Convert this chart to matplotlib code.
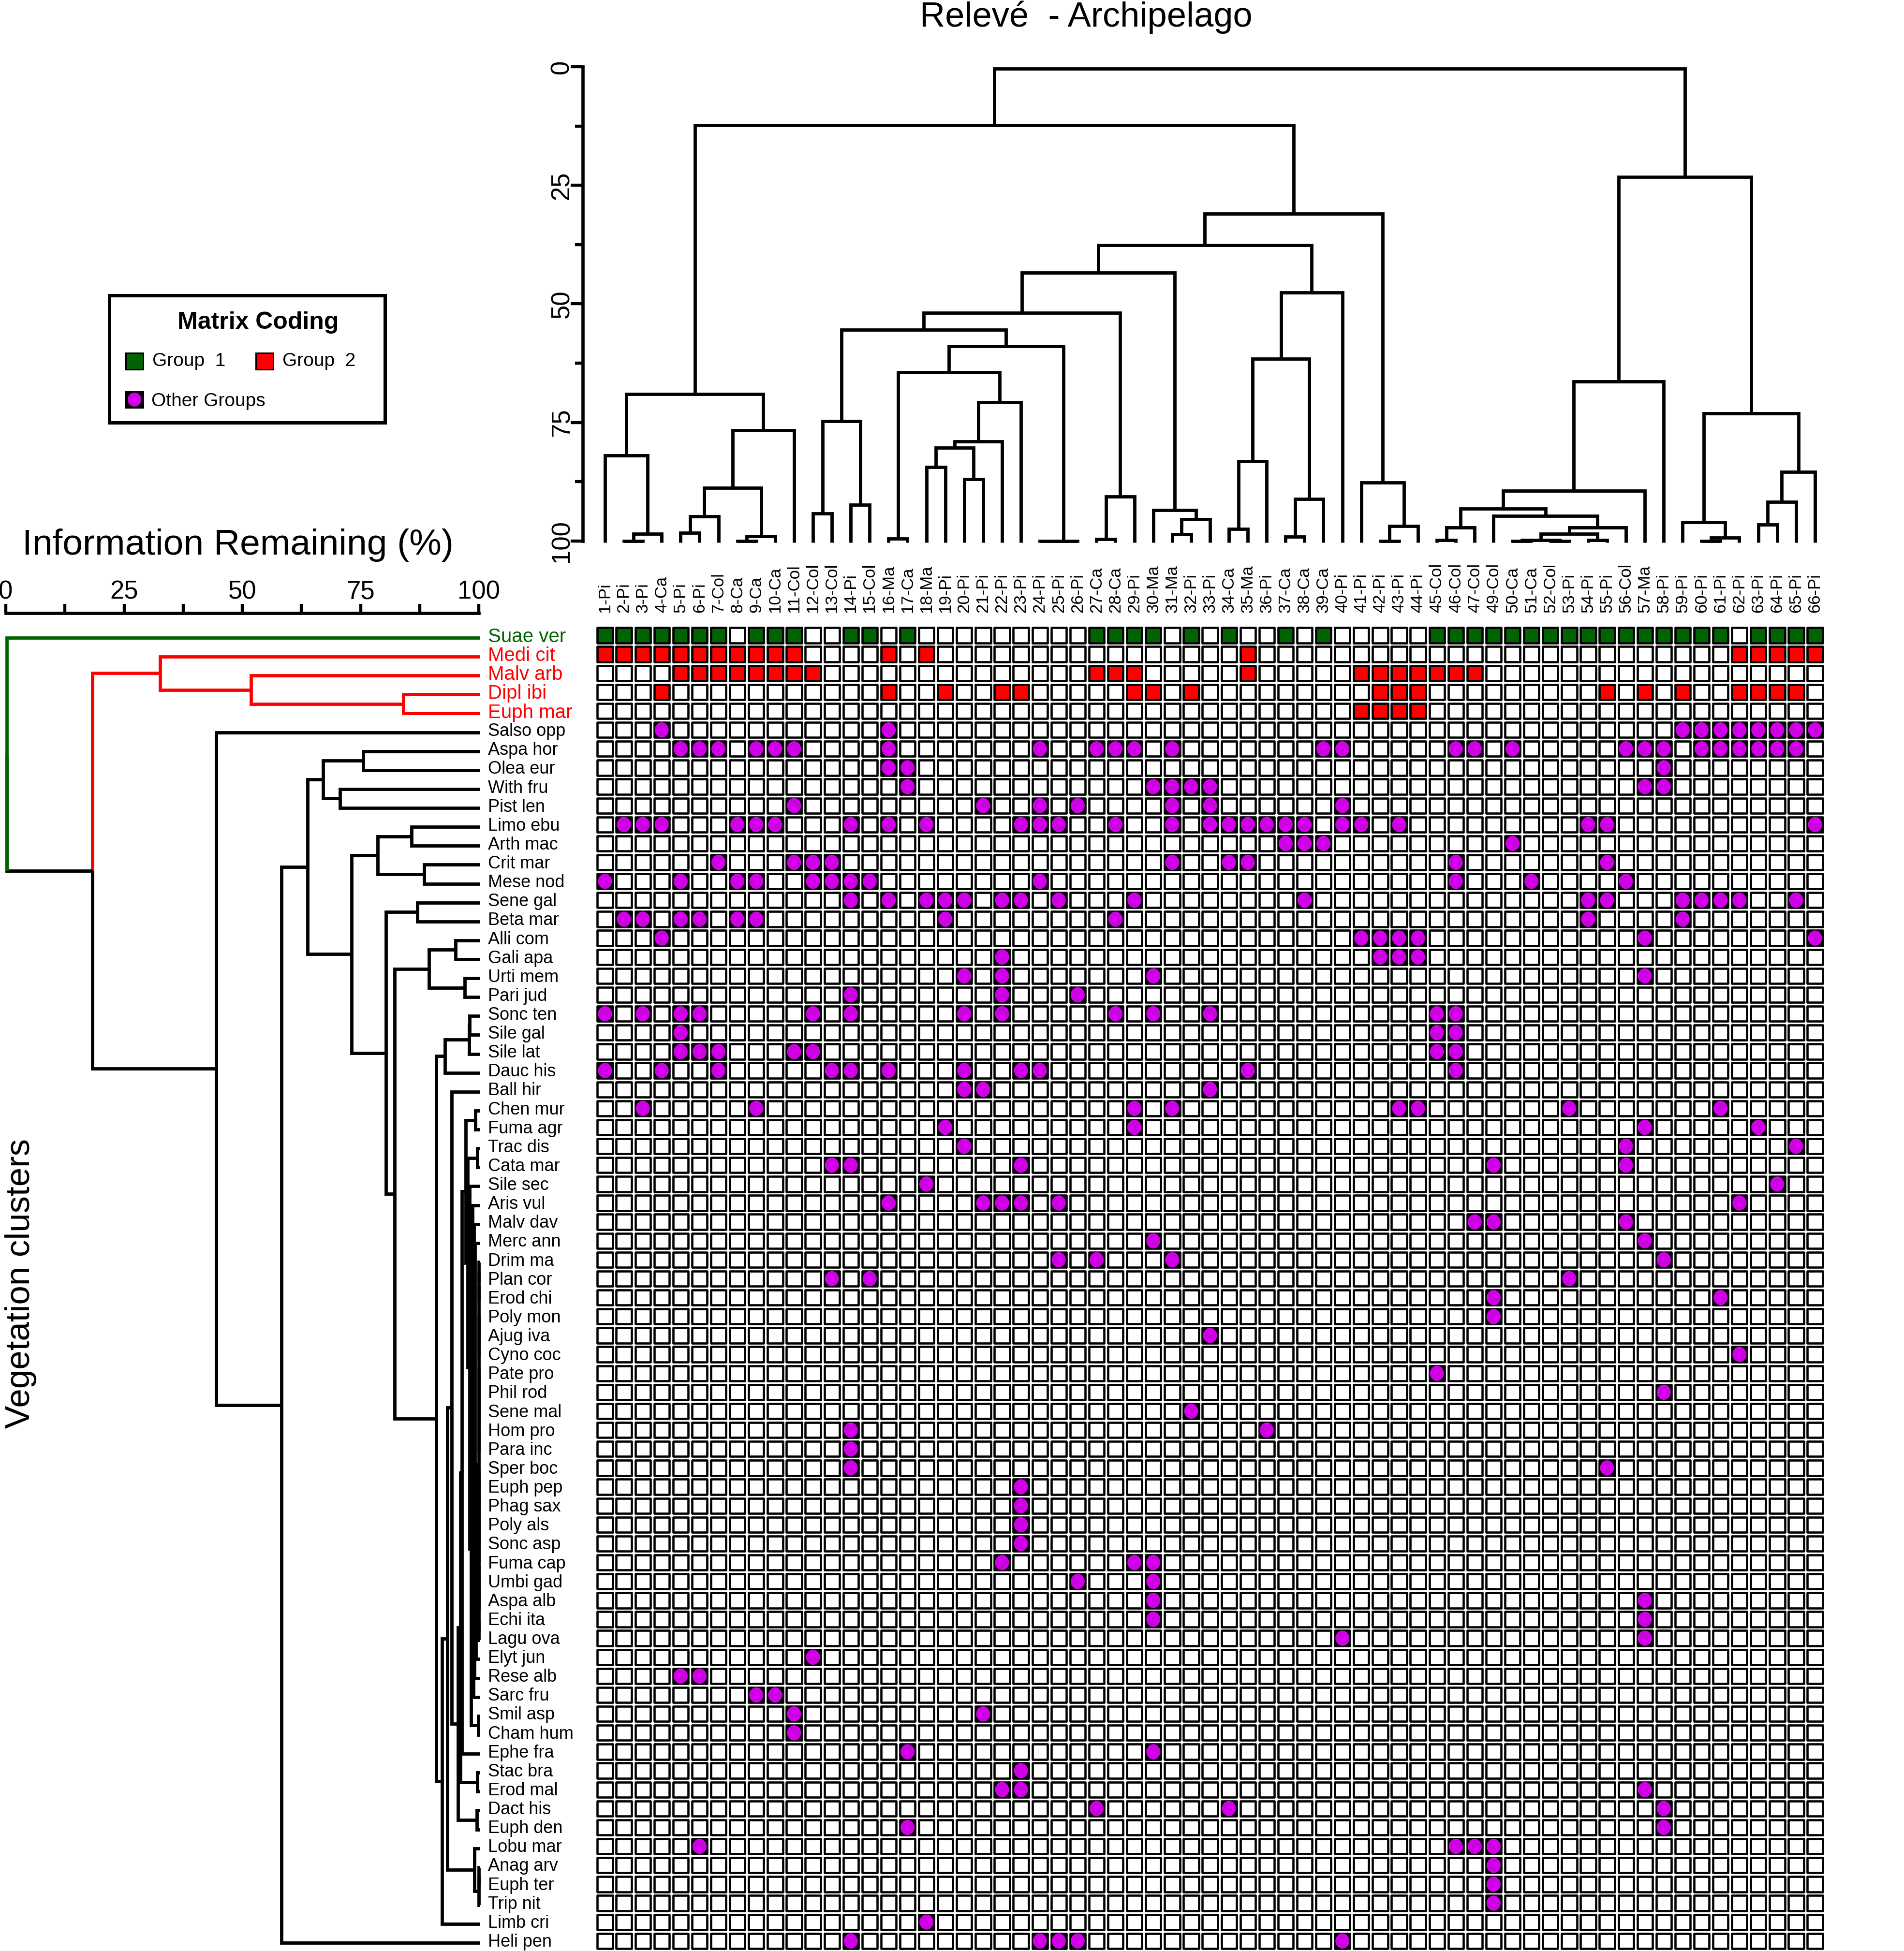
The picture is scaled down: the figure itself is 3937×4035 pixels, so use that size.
import matplotlib
matplotlib.use("Agg")
import matplotlib.pyplot as plt
from matplotlib.collections import PatchCollection
from matplotlib.patches import Rectangle, Ellipse

plt.rcParams['font.family'] = ['Liberation Sans', 'DejaVu Sans']

W, H = 3937, 4035
PX = 72 / 100  # one picture pixel in points

col_labels = ["1-Pi", "2-Pi", "3-Pi", "4-Ca", "5-Pi", "6-Pi", "7-Col", "8-Ca", "9-Ca", "10-Ca", "11-Col",
              "12-Col", "13-Col", "14-Pi", "15-Col", "16-Ma", "17-Ca", "18-Ma", "19-Pi", "20-Pi", "21-Pi",
              "22-Pi", "23-Pi", "24-Pi", "25-Pi", "26-Pi", "27-Ca", "28-Ca", "29-Pi", "30-Ma", "31-Ma",
              "32-Pi", "33-Pi", "34-Ca", "35-Ma", "36-Pi", "37-Ca", "38-Ca", "39-Ca", "40-Pi", "41-Pi",
              "42-Pi", "43-Pi", "44-Pi", "45-Col", "46-Col", "47-Col", "49-Col", "50-Ca", "51-Ca", "52-Col",
              "53-Pi", "54-Pi", "55-Pi", "56-Col", "57-Ma", "58-Pi", "59-Pi", "60-Pi", "61-Pi", "62-Pi",
              "63-Pi", "64-Pi", "65-Pi", "66-Pi"]

species = ["Suae ver", "Medi cit", "Malv arb", "Dipl ibi", "Euph mar", "Salso opp", "Aspa hor", "Olea eur",
           "With fru", "Pist len", "Limo ebu", "Arth mac", "Crit mar", "Mese nod", "Sene gal", "Beta mar",
           "Alli com", "Gali apa", "Urti mem", "Pari jud", "Sonc ten", "Sile gal", "Sile lat", "Dauc his",
           "Ball hir", "Chen mur", "Fuma agr", "Trac dis", "Cata mar", "Sile sec", "Aris vul", "Malv dav",
           "Merc ann", "Drim ma", "Plan cor", "Erod chi", "Poly mon", "Ajug iva", "Cyno coc", "Pate pro",
           "Phil rod", "Sene mal", "Hom pro", "Para inc", "Sper boc", "Euph pep", "Phag sax", "Poly als",
           "Sonc asp", "Fuma cap", "Umbi gad", "Aspa alb", "Echi ita", "Lagu ova", "Elyt jun", "Rese alb",
           "Sarc fru", "Smil asp", "Cham hum", "Ephe fra", "Stac bra", "Erod mal", "Dact his", "Euph den",
           "Lobu mar", "Anag arv", "Euph ter", "Trip nit", "Limb cri", "Heli pen"]

# releve numbers occupied per species, group 1 row
suae_ver = [1, 2, 3, 4, 5, 6, 7, 9, 10, 11, 14, 15, 17, 27, 28, 29, 30, 32, 34, 37, 39, 45, 46, 47, 49, 50, 51,
            52, 53, 54, 55, 56, 57, 58, 59, 60, 61, 63, 64, 65, 66]

# group 2 rows
medi_cit = [1, 2, 3, 4, 5, 6, 7, 8, 9, 10, 11, 16, 18, 35, 62, 63, 64, 65, 66]
malv_arb = [5, 6, 7, 8, 9, 10, 11, 12, 27, 28, 29, 35, 41, 42, 43, 44, 45, 46, 47]
dipl_ibi = [4, 16, 19, 22, 23, 29, 30, 32, 42, 43, 44, 55, 57, 59, 62, 63, 64, 65]
euph_mar = [41, 42, 43, 44]

# other groups, one list per remaining species in row order
other_rows = [
    [4, 16, 59, 60, 61, 62, 63, 64, 65, 66],
    [5, 6, 7, 9, 10, 11, 16, 24, 27, 28, 29, 31, 39, 40, 46, 47, 50, 56, 57, 58, 60, 61, 62, 63, 64, 65],
    [16, 17, 58],
    [17, 30, 31, 32, 33, 57, 58],
    [11, 21, 24, 26, 31, 33, 40],
    [2, 3, 4, 8, 9, 10, 14, 16, 18, 23, 24, 25, 28, 31, 33, 34, 35, 36, 37, 38, 40, 41, 43, 54, 55, 66],
    [37, 38, 39, 50],
    [7, 11, 12, 13, 31, 34, 35, 46, 55],
    [1, 5, 8, 9, 12, 13, 14, 15, 24, 46, 51, 56],
    [14, 16, 18, 19, 20, 22, 23, 25, 29, 38, 54, 55, 59, 60, 61, 62, 65],
    [2, 3, 5, 6, 8, 9, 19, 28, 54, 59],
    [4, 41, 42, 43, 44, 57, 66],
    [22, 42, 43, 44],
    [20, 22, 30, 57],
    [14, 22, 26],
    [1, 3, 5, 6, 12, 14, 20, 22, 28, 30, 33, 45, 46],
    [5, 45, 46],
    [5, 6, 7, 11, 12, 45, 46],
    [1, 4, 7, 13, 14, 16, 20, 23, 24, 35, 46],
    [20, 21, 33],
    [3, 9, 29, 31, 43, 44, 53, 61],
    [19, 29, 57, 63],
    [20, 56, 65],
    [13, 14, 23, 49, 56],
    [18, 64],
    [16, 21, 22, 23, 25, 62],
    [47, 49, 56],
    [30, 57],
    [25, 27, 31, 58],
    [13, 15, 53],
    [49, 61],
    [49],
    [33],
    [62],
    [45],
    [58],
    [32],
    [14, 36],
    [14],
    [14, 55],
    [23],
    [23],
    [23],
    [23],
    [22, 29, 30],
    [26, 30],
    [30, 57],
    [30, 57],
    [40, 57],
    [12],
    [5, 6],
    [9, 10],
    [11, 21],
    [11],
    [17, 30],
    [23],
    [22, 23, 57],
    [27, 34, 58],
    [17, 58],
    [6, 46, 47, 49],
    [49],
    [49],
    [49],
    [18],
    [14, 24, 25, 26, 40],
]

# Dendrograms: (height, child, child), ints are leaf positions
top_a = (69.0, (82.0, 0, (98.5, (100, 1, 2), 3)),
         (76.7, (88.8, (94.8, (98.3, 4, 5), 6), (99.0, (100, 7, 8), 9)), 10))
top_b1 = (74.7, (94.2, 11, 12), (92.4, 13, 14))
top_b2 = (64.4, (99.5, 15, 16),
          (70.8, (79.0, (80.3, (84.4, 17, 18), (87.0, 19, 20)), 21), 22))
top_b = (55.5, top_b1, (58.9, top_b2, (100, (100, 23, 24), 25)))
top_c = (51.9, top_b, (90.6, (99.6, 26, 27), 28))
top_d = (43.4, top_c, (93.5, 29, (95.4, (98.6, 30, 31), 32)))
top_e = (47.6, (61.6, (83.2, (97.5, 33, 34), 35), (91.1, (99.1, 36, 37), 38)), 39)
top_f = (87.7, 40, (96.8, (100, 41, 42), 43))
top_left = (12.3, top_a, (31.0, (37.6, top_d, top_e), top_f))
top_g = (93.2, (97.2, (99.8, 44, 45), 46),
         (94.7, 47, (97.2, (98.5, (99.8, (100, 48, 49), (100, 50, 51)), (99.8, 52, 53)), 54)))
top_h = (66.4, (89.4, top_g, 55), 56)
top_i = (73.1, (96.0, 57, (99.3, (100, 58, 59), 60)), (85.4, (91.7, (96.5, 61, 62), 63), 64))
top_tree = (0.4, top_left, (23.2, top_h, top_i))


def zero_comb(first, last):
    # species that join at full information, no order to read there
    if first == last:
        return first
    mid = (first + last) // 2
    return (100, zero_comb(first, mid), zero_comb(mid + 1, last))


left_red = (32.6, 1, (51.8, 2, (84.0, 3, 4)))
left_e = (67.1, (75.6, 6, 7), (70.7, 8, 9))
left_g = (78.6, (85.8, 10, 11), (88.4, 12, 13))
left_k = (89.5, (95.1, 16, 17), (97.0, 18, 19))
left_m = (92.8, (98.0, (98.1, 20, 21), 22), 23)
left_chain = (99.4, zero_comb(33, 53), 54)
left_chain = (99.2, 32, left_chain)
left_chain = (99.1, left_chain, 55)
left_chain = (99.0, 31, left_chain)
left_chain = (98.9, left_chain, 56)
left_chain = (98.7, 30, left_chain)
left_chain = (98.4, left_chain, (99.9, 57, 58))
left_x = (97.6, (99.7, 27, 28), (98.05, 29, left_chain))
left_x = (97.2, (99.3, 25, 26), left_x)
left_v = (96.1, (96.4, left_x, 59), (99.7, 60, 61))
left_q = (94.3, 24, (95.6, left_v, (99.55, 62, 63)))
left_p = (93.4, left_q, (99.1, 64, (100, (100, 65, 66), 67)))
left_n = (92.2, left_p, 68)
left_h = (80.4, (87.0, 14, 15), (82.2, left_k, (91.0, left_m, left_n)))
left_d = (63.8, left_e, (73.1, left_g, left_h))
left_black = (44.5, 5, (58.3, left_d, 69))
root_info = 0.25
split_info = 18.3

fig = plt.figure(figsize=(W / 100 + 0.001, H / 100 + 0.001), dpi=100)


def px_axes(x0, y0, x1, y1):
    return fig.add_axes([x0 / W, 1 - y1 / H, (x1 - x0) / W, (y1 - y0) / H])


def draw_tree(ax, node, tip, across_first, color='black', lw=4.9):
    # returns position across the leaves and height of the node
    if isinstance(node, int):
        return node, tip
    h, a, b = node
    pa, ha = draw_tree(ax, a, tip, across_first, color, lw)
    pb, hb = draw_tree(ax, b, tip, across_first, color, lw)
    across = [pa, pa, pb, pb]
    along = [ha, h, h, hb]
    if across_first:
        ax.plot(across, along, color=color, lw=lw, solid_joinstyle='miter', solid_capstyle='butt', clip_on=False)
    else:
        ax.plot(along, across, color=color, lw=lw, solid_joinstyle='miter', solid_capstyle='butt', clip_on=False)
    return (pa + pb) / 2, h


# ---- matrix
col_pitch, row_pitch = 39.09, 39.12
ax_m = px_axes(1251 - 0.5 * col_pitch, 1314 - 0.5 * row_pitch, 3753 + 0.5 * col_pitch, 4013.3 + 0.5 * row_pitch + 1)
ax_m.set_xlim(-0.5, 64.5)
ax_m.set_ylim(69.5, -0.5)
ax_m.axis('off')

col_of = {int(lab.split('-')[0]): k for k, lab in enumerate(col_labels)}
GREEN, RED, MAGENTA = '#006400', '#ff0000', '#d000e6'

fills = {}
for num in suae_ver:
    fills[(0, col_of[num])] = GREEN
for r, nums in enumerate([medi_cit, malv_arb, dipl_ibi, euph_mar], start=1):
    for num in nums:
        fills[(r, col_of[num])] = RED
for r, nums in enumerate(other_rows, start=5):
    for num in nums:
        fills[(r, col_of[num])] = 'black'

side = 0.80
cells = []
for r in range(len(species)):
    for k in range(len(col_labels)):
        cells.append(Rectangle((k - side / 2, r - side / 2), side, side,
                               facecolor=fills.get((r, k), 'white'), edgecolor='black', linewidth=4.6 * PX))
ax_m.add_collection(PatchCollection(cells, match_original=True, clip_on=False))
dots = [Ellipse((k, r), 0.74, 0.80, facecolor=MAGENTA, edgecolor='none')
        for (r, k), c in fills.items() if c == 'black']
ax_m.add_collection(PatchCollection(dots, match_original=True, clip_on=False))

for k, lab in enumerate(col_labels):
    ax_m.text(k, -1.2, lab, rotation=90, ha='center', va='bottom', fontsize=25, clip_on=False)

# ---- top dendrogram
ax_t = px_axes(1205, 138, 3800, 1119)
ax_t.set_xlim((1205 - 1251) / col_pitch, (3800 - 1251) / col_pitch)
ax_t.set_ylim(100, 0)
ax_t.patch.set_alpha(0)
for s in ['top', 'right', 'bottom']:
    ax_t.spines[s].set_visible(False)
ax_t.spines['left'].set_linewidth(4.8)
ax_t.set_xticks([])
ax_t.set_yticks([0, 25, 50, 75, 100])
ax_t.set_yticks([12.5, 37.5, 62.5, 87.5], minor=True)
ax_t.tick_params(axis='y', which='major', length=18, width=4.6, labelsize=38, pad=-5)
ax_t.tick_params(axis='y', which='minor', length=11.5, width=4.6)
for t in ax_t.get_yticklabels():
    t.set_rotation(90)
    t.set_va('center')
draw_tree(ax_t, top_tree, 100.3, True)

# ---- left dendrogram
row0_px = 1319
ax_l = px_axes(12, 1268, 990, 4035)
ax_l.set_xlim(0, 100)
ax_l.set_ylim((4035 - row0_px) / row_pitch, (1268 - row0_px) / row_pitch)
ax_l.patch.set_alpha(0)
for s in ['left', 'right', 'bottom']:
    ax_l.spines[s].set_visible(False)
ax_l.spines['top'].set_linewidth(4.8)
ax_l.set_yticks([])
ax_l.xaxis.tick_top()
ax_l.set_xticks([0, 25, 50, 75, 100])
ax_l.set_xticks([12.5, 37.5, 62.5, 87.5], minor=True)
ax_l.tick_params(axis='x', which='major', length=13.7, width=4.6, labelsize=38, pad=0)
ax_l.tick_params(axis='x', which='minor', length=13.7, width=4.6)
for t in ax_l.get_xticklabels():
    t.set_clip_on(False)

TIP = 100.2
red_y, red_h = draw_tree(ax_l, left_red, TIP, False, RED)
black_y, black_h = draw_tree(ax_l, left_black, TIP, False)
split_y = (red_y + black_y) / 2
line = dict(solid_joinstyle='miter', solid_capstyle='butt', lw=4.9, clip_on=False)
ax_l.plot([red_h, split_info, split_info], [red_y, red_y, split_y], color=RED, **line)
ax_l.plot([black_h, split_info, split_info], [black_y, black_y, split_y], color='black', **line)
ax_l.plot([split_info, root_info, root_info], [split_y, split_y, split_y / 2], color='black', **line)
ax_l.plot([TIP, root_info, root_info], [0, 0, split_y], color=GREEN, **line)

for r, name in enumerate(species):
    c = GREEN if r == 0 else RED if r < 5 else 'black'
    fs = 29 if r < 5 else 26
    ax_l.text(101.9, r - 0.05, name, color=c, ha='left', va='center', fontsize=fs, clip_on=False)

# ---- overlay for titles and legend, in picture pixels
ax_o = fig.add_axes([0, 0, 1, 1])
ax_o.set_xlim(0, W)
ax_o.set_ylim(H, 0)
ax_o.axis('off')
ax_o.patch.set_alpha(0)
ax_o.text(2246, 36, "Relevé  - Archipelago", ha='center', va='center', fontsize=52)
ax_o.text(46, 1127, "Information Remaining (%)", ha='left', va='center', fontsize=54)
ax_o.text(43, 2654, "Vegetation clusters", rotation=90, ha='center', va='center', fontsize=51)

ax_o.add_patch(Rectangle((226, 611), 570, 263, facecolor='white', edgecolor='black', linewidth=7 * PX))
ax_o.text(534, 667, "Matrix Coding", ha='center', va='center', fontsize=36, fontweight='bold')
ax_o.add_patch(Rectangle((260, 730), 36, 34, facecolor=GREEN, edgecolor='black', linewidth=3 * PX))
ax_o.text(315, 747, "Group  1", ha='left', va='center', fontsize=28)
ax_o.add_patch(Rectangle((529, 730), 36, 34, facecolor=RED, edgecolor='black', linewidth=3 * PX))
ax_o.text(584, 747, "Group  2", ha='left', va='center', fontsize=28)
ax_o.add_patch(Rectangle((260, 810), 36, 33, facecolor='black', edgecolor='black', linewidth=3 * PX))
ax_o.add_patch(Ellipse((278, 826.5), 28, 29, facecolor=MAGENTA, edgecolor='none'))
ax_o.text(313, 830, "Other Groups", ha='left', va='center', fontsize=28)

fig.savefig("out.png", dpi=100, facecolor='white')
